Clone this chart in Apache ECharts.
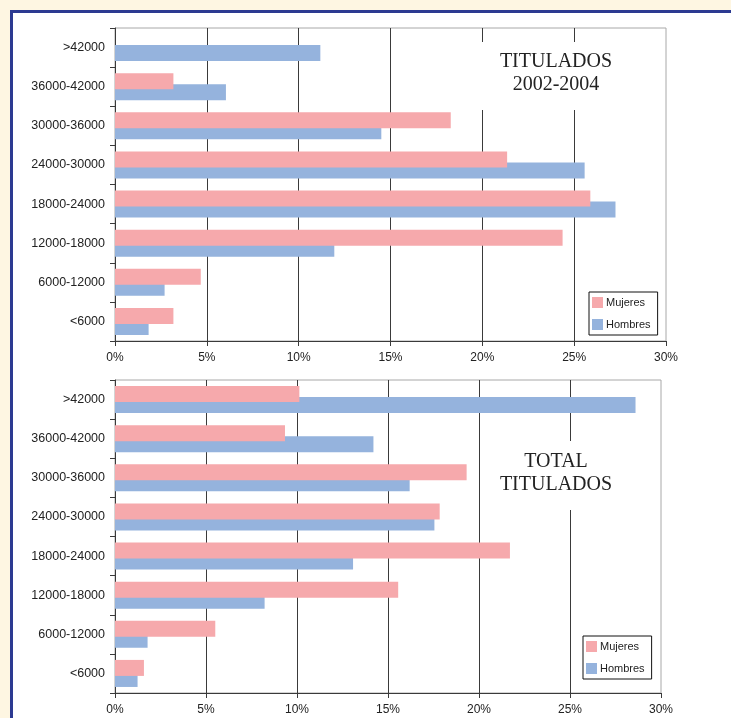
<!DOCTYPE html>
<html>
<head>
<meta charset="utf-8">
<script src="https://cdn.jsdelivr.net/npm/echarts@6/dist/echarts.min.js"></script>
<style>
  html, body { margin: 0; padding: 0; background: #FEF6E2; width: 731px; height: 718px; overflow: hidden; }
  #frame { position: absolute; left: 10px; top: 10px; width: 800px; height: 800px; background: #fff;
           border-left: 3px solid #2C3A91; border-top: 3px solid #2C3A91; }
  #chart { position: absolute; left: 0; top: 0; width: 731px; height: 718px; }
</style>
</head>
<body>
<div id="frame"></div>
<div id="chart"></div>
<script>
const categories = ['<6000', '6000-12000', '12000-18000', '18000-24000', '24000-30000', '30000-36000', '36000-42000', '>42000'];
const seriesNames = ['Mujeres', 'Hombres'];
const tickValues = [0, 5, 10, 15, 20, 25, 30];
const titleTop = ['TITULADOS', '2002-2004'];
const titleBottom = ['TOTAL', 'TITULADOS'];

const mujeres2002 = [3.18, 4.67, 24.37, 25.88, 21.35, 18.28, 3.18, 0];
const hombres2002 = [1.83, 2.70, 11.94, 27.25, 25.57, 14.50, 6.04, 11.18];
const mujeresTotal = [1.59, 5.51, 15.56, 21.70, 17.84, 19.32, 9.34, 10.13];
const hombresTotal = [1.24, 1.79, 8.22, 13.08, 17.55, 16.19, 14.20, 28.60];

const PINK = '#F6A9AC';
const BLUE = '#95B3DD';
const DARK = '#3a3a3a';

const chart = echarts.init(document.getElementById('chart'), null, { renderer: 'canvas' });

function xAxisFor(gridIndex) {
  return {
    type: 'value', gridIndex: gridIndex,
    min: tickValues[0], max: tickValues[tickValues.length - 1], interval: tickValues[1] - tickValues[0],
    axisLine: { show: true, lineStyle: { color: DARK, width: 1 } },
    axisTick: { show: true, length: 5, lineStyle: { color: DARK } },
    axisLabel: { margin: 11, color: '#222', fontFamily: 'Liberation Sans', fontSize: 12, formatter: '{value}%' },
    splitLine: { show: true, showMaxLine: false, lineStyle: { color: DARK, width: 1 } }
  };
}
function yAxisFor(gridIndex) {
  return {
    type: 'category', gridIndex: gridIndex, data: categories,
    axisLine: { show: true, lineStyle: { color: DARK, width: 1 } },
    axisTick: { show: true, length: 5, alignWithLabel: false, lineStyle: { color: DARK } },
    axisLabel: { margin: 10, color: '#222', fontFamily: 'Liberation Sans', fontSize: 12.5 },
    splitLine: { show: false }
  };
}
function barSeries(name, data, idx, color, z) {
  return {
    type: 'bar', name: name, data: data, xAxisIndex: idx, yAxisIndex: idx,
    barWidth: 16, barGap: '-31%', z: z,
    itemStyle: { color: color }, emphasis: { disabled: true }, animation: false
  };
}
function legendFor(left, top) {
  return {
    data: seriesNames, orient: 'vertical', left: left, top: top,
    itemWidth: 11, itemHeight: 11, itemGap: 11,
    padding: [5, 7, 5, 3],
    borderColor: '#111', borderWidth: 1, backgroundColor: '#fff', borderRadius: 0,
    icon: 'rect',
    textStyle: { fontFamily: 'Liberation Sans', fontSize: 11, color: '#222', padding: [0, 0, 0, -2] },
    selectedMode: false
  };
}
function titleGraphic(lines, cx, top, bottom, y1) {
  return [
    { type: 'rect', z: 50, shape: { x: cx - 76, y: top, width: 152, height: bottom - top }, style: { fill: '#fff' } },
    { type: 'text', z: 51, style: { text: lines[0], x: cx, y: y1, textAlign: 'center', textVerticalAlign: 'middle',
        font: '20px "Liberation Serif"', fill: '#222' } },
    { type: 'text', z: 51, style: { text: lines[1], x: cx, y: y1 + 23, textAlign: 'center', textVerticalAlign: 'middle',
        font: '20px "Liberation Serif"', fill: '#222' } }
  ];
}

const option = {
  backgroundColor: 'transparent',
  animation: false,
  grid: [
    { left: 115, top: 28, width: 551, height: 313, show: true, borderColor: '#a8a8a8', borderWidth: 1, backgroundColor: 'transparent' },
    { left: 115, top: 380, width: 546, height: 313, show: true, borderColor: '#a8a8a8', borderWidth: 1, backgroundColor: 'transparent' }
  ],
  xAxis: [xAxisFor(0), xAxisFor(1)],
  yAxis: [yAxisFor(0), yAxisFor(1)],
  legend: [legendFor(589, 292), legendFor(583, 636)],
  series: [
    barSeries(seriesNames[0], mujeres2002, 0, PINK, 4),
    barSeries(seriesNames[1], hombres2002, 0, BLUE, 3),
    barSeries(seriesNames[0], mujeresTotal, 1, PINK, 4),
    barSeries(seriesNames[1], hombresTotal, 1, BLUE, 3)
  ],
  graphic: [].concat(
    titleGraphic(titleTop, 556, 42, 110, 62),
    titleGraphic(titleBottom, 556, 441, 510, 462)
  )
};
chart.setOption(option);
</script>
</body>
</html>
